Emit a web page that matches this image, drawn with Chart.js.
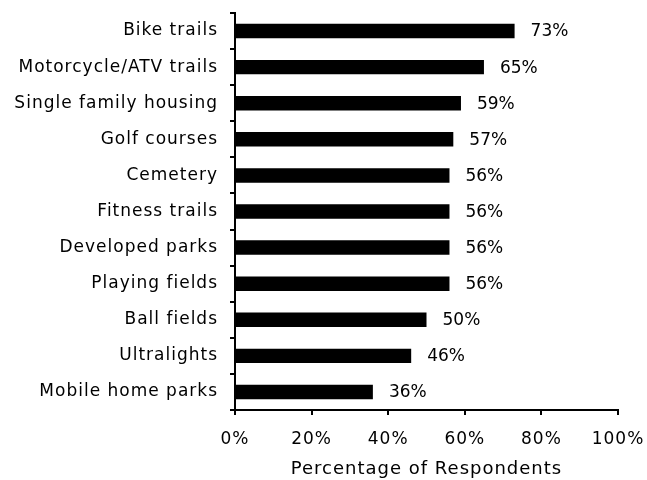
<!DOCTYPE html>
<html>
<head>
<meta charset="utf-8">
<script src="https://cdn.jsdelivr.net/npm/chart.js@4"></script>
<style>
  html, body { margin: 0; padding: 0; background: #fff; }
  #wrap { width: 647px; height: 480px; position: relative; }
</style>
</head>
<body>
<div id="wrap"><canvas id="ct-chart"></canvas></div>
<script>
"use strict";
const categories = [
    "Bike trails",
    "Motorcycle/ATV trails",
    "Single family housing",
    "Golf courses",
    "Cemetery",
    "Fitness trails",
    "Developed parks",
    "Playing fields",
    "Ball fields",
    "Ultralights",
    "Mobile home parks"
];
const percentages = [73, 65, 59, 57, 56, 56, 56, 56, 50, 46, 36];
const xTicks = [0, 20, 40, 60, 80, 100];

const font = { family: "'DejaVu Sans', sans-serif", size: 17 };

// the scanned original has rather wide lettering
const wideText = {
    id: 'wideText',
    beforeDraw(chart) {
        chart.ctx.letterSpacing = '1px';
    }
};

// text at the end of each bar
const valueLabels = {
    id: 'valueLabels',
    afterDatasetsDraw(chart) {
        const ctx = chart.ctx;
        const meta = chart.getDatasetMeta(0);
        ctx.save();
        ctx.letterSpacing = '0px';
        ctx.font = `${font.size}px ${font.family}`;
        ctx.fillStyle = '#000';
        ctx.textAlign = 'left';
        ctx.textBaseline = 'middle';
        meta.data.forEach((bar, i) => {
            ctx.fillText(percentages[i] + '%', bar.x + 16, bar.y + 1);
        });
        ctx.restore();
    }
};

const ctx = document.getElementById('ct-chart').getContext('2d');
new Chart(ctx, {
    type: 'bar',
    data: {
        labels: categories,
        datasets: [{
            data: percentages,
            backgroundColor: '#000',
            borderWidth: 0,
            barPercentage: 0.4,
            categoryPercentage: 1
        }]
    },
    options: {
        indexAxis: 'y',
        responsive: true,
        maintainAspectRatio: false,
        animation: false,
        layout: {
            padding: { top: 13, right: 29, left: 0, bottom: 0 }
        },
        plugins: {
            legend: { display: false },
            tooltip: { enabled: false }
        },
        scales: {
            x: {
                min: 0,
                max: 100,
                afterBuildTicks: scale => {
                    scale.ticks = xTicks.map(v => ({ value: v }));
                },
                afterFit: scale => {
                    scale.height = 70;
                    scale.paddingLeft = 0;
                    scale.paddingRight = 0;
                },
                border: { color: '#000', width: 2 },
                grid: {
                    drawOnChartArea: false,
                    drawTicks: true,
                    tickLength: 5,
                    color: '#000',
                    lineWidth: 2
                },
                ticks: {
                    color: '#000',
                    font: font,
                    padding: 14,
                    maxRotation: 0,
                    callback: v => v + '%'
                },
                title: {
                    display: true,
                    text: 'Percentage of Respondents',
                    color: '#000',
                    font: { family: font.family, size: 18 },
                    padding: { top: 5, bottom: 0 }
                }
            },
            y: {
                afterFit: scale => {
                    scale.width = 235;
                    scale.paddingTop = 0;
                    scale.paddingBottom = 0;
                },
                border: { color: '#000', width: 2 },
                grid: {
                    drawOnChartArea: false,
                    drawTicks: true,
                    tickLength: 5,
                    color: '#000',
                    lineWidth: 2
                },
                ticks: {
                    color: '#000',
                    font: font,
                    padding: 12,
                    autoSkip: false
                }
            }
        }
    },
    plugins: [wideText, valueLabels]
});
</script>
</body>
</html>
